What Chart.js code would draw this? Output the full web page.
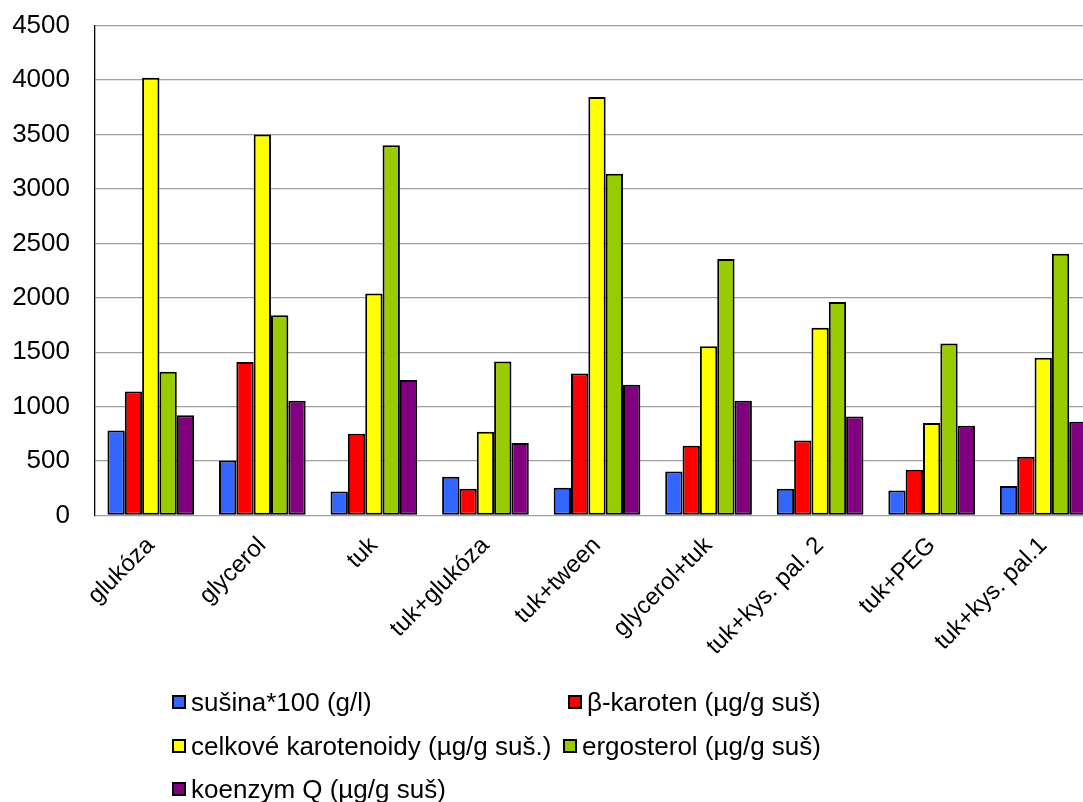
<!DOCTYPE html>
<html>
<head>
<meta charset="utf-8">
<script src="https://cdn.jsdelivr.net/npm/chart.js@4.4.0/dist/chart.umd.min.js"></script>
<style>
  html, body { margin: 0; padding: 0; background: #fff; overflow: hidden; }
  #wrap { position: relative; width: 1083px; height: 802px; overflow: hidden; }
  #box { position: absolute; left: 0; top: -15px; width: 1100px; height: 817px; }
  #legend { position: absolute; left: 0; top: 0; width: 1083px; height: 802px; pointer-events: none;
            font-family: "Liberation Sans", Arial, sans-serif; font-size: 26px; color: #000; }
  .li { position: absolute; display: flex; align-items: center; white-space: nowrap; height: 30px; }
  .sw { width: 10px; height: 10px; border: 2px solid #000; margin-right: 5px; flex: none; }
</style>
</head>
<body>
<div id="wrap">
  <div id="box"><canvas id="c"></canvas></div>
  <div id="legend"></div>
</div>
<script>
const categories = ["glukóza", "glycerol", "tuk", "tuk+glukóza", "tuk+tween", "glycerol+tuk", "tuk+kys. pal. 2", "tuk+PEG", "tuk+kys. pal.1"];
const seriesNames = ["sušina*100 (g/l)", "β-karoten (µg/g suš)", "celkové karotenoidy (µg/g suš.)", "ergosterol (µg/g suš)", "koenzym Q (µg/g suš)"];
const susina      = [780, 505, 220, 355, 255, 405, 245, 230, 270];
const betaKaroten = [1140, 1410, 750, 245, 1305, 640, 690, 420, 540];
const celkove     = [4020, 3500, 2040, 770, 3845, 1555, 1725, 850, 1450];
const ergosterol  = [1320, 1840, 3400, 1415, 3140, 2355, 1960, 1580, 2405];
const koenzymQ    = [920, 1055, 1245, 665, 1200, 1055, 910, 825, 860];
const yTicks      = [0, 500, 1000, 1500, 2000, 2500, 3000, 3500, 4000, 4500];

const colors = ["#3366FF", "#FF0000", "#FFFF00", "#99CC00", "#800080"];
const values = [susina, betaKaroten, celkove, ergosterol, koenzymQ];

const FONT = "'Liberation Sans', Arial, sans-serif";

const canvas = document.getElementById('c');
canvas.width = 1100; canvas.height = 817;
canvas.style.width = '1100px'; canvas.style.height = '817px';

const chart = new Chart(canvas, {
  type: 'bar',
  data: {
    labels: categories,
    datasets: seriesNames.map((n, i) => ({
      label: n,
      data: values[i],
      backgroundColor: colors[i],
      borderColor: '#000',
      borderWidth: 2,
      borderSkipped: false,
      categoryPercentage: 0.777,
      barPercentage: 1.0
    }))
  },
  options: {
    responsive: false,
    animation: false,
    devicePixelRatio: 1,
    layout: { padding: { top: 10, right: 1, bottom: 0, left: 0 } },
    plugins: { legend: { display: false }, tooltip: { enabled: false } },
    scales: {
      x: {
        grid: { display: false, drawTicks: false },
        border: { display: false },
        ticks: {
          minRotation: 45, maxRotation: 45, autoSkip: false,
          padding: 16,
          color: '#000',
          font: { family: FONT, size: 24 }
        },
        afterFit(scale) { scale.height = 802 - 515.5; }
      },
      y: {
        min: 0, max: 4500,
        afterBuildTicks(scale) { scale.ticks = yTicks.map(v => ({ value: v })); },
        grid: { color: '#a0a0a0', lineWidth: 1.3, drawTicks: false },
        border: { display: true, color: '#000', width: 1.3 },
        ticks: {
          padding: 25, color: '#000',
          font: { family: FONT, size: 26 },
          callback: (v) => String(v)
        },
        afterFit(scale) { scale.width = 95; }
      }
    }
  }
});

// HTML legend generated from the chart's datasets
const legendPos = [[172, 702], [568, 702], [172, 746], [563, 746], [172, 789]];
const leg = document.getElementById('legend');
chart.data.datasets.forEach((ds, i) => {
  const d = document.createElement('div');
  d.className = 'li';
  d.style.left = legendPos[i][0] + 'px';
  d.style.top = (legendPos[i][1] - 15) + 'px';
  const sw = document.createElement('span');
  sw.className = 'sw';
  sw.style.background = ds.backgroundColor;
  const t = document.createElement('span');
  t.textContent = ds.label;
  d.appendChild(sw); d.appendChild(t);
  leg.appendChild(d);
});
</script>
</body>
</html>
